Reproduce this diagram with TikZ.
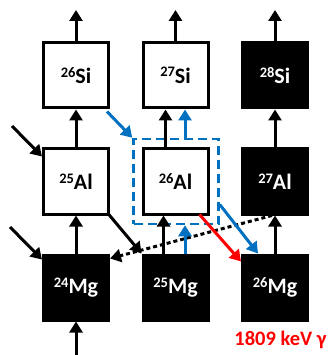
\documentclass[tikz,border=0pt]{standalone}
\usepackage{fontspec}
\setmainfont{Carlito}
\usepackage{tikz}
\usetikzlibrary{positioning,arrows.meta,calc}
\definecolor{pathblue}{RGB}{0,112,192}
\definecolor{gammared}{RGB}{255,0,0}
\newcommand{\iso}[2]{\raisebox{0.6ex}{\fontsize{14.5}{14}\selectfont #1}#2}

\begin{document}
\begin{tikzpicture}[x=1pt,y=-1pt,
  nuc/.style={rectangle, draw=black, line width=3pt, fill=white,
              minimum width=65pt, minimum height=65pt, inner sep=0pt,
              font=\fontsize{22}{24}\selectfont\bfseries},
  stab/.style={nuc, fill=black, text=white},
  ar/.style={-{Triangle[length=11pt,width=13pt]}, line width=3pt, black},
  bar/.style={ar, pathblue},
  rar/.style={ar, gammared},
  dotar/.style={ar, dash pattern=on 4pt off 3pt},
  cycle/.style={rectangle, draw=pathblue, line width=2.5pt,
                dash pattern=on 9pt off 5pt, minimum width=85pt, minimum height=85pt},
]
\useasboundingbox (0,0) rectangle (334,355);

% nuclides
\node[nuc]  (si26) at ( 76, 75.5) {\iso{26}{Si}};
\node[nuc]  (si27) at (175.5, 75.5) {\iso{27}{Si}};
\node[stab] (si28) at (275, 75.5) {\iso{28}{Si}};
\node[nuc]  (al25) at ( 76,181.5) {\iso{25}{Al}};
\node[nuc]  (al26) at (175.5,181.5) {\iso{26}{Al}};
\node[stab] (al27) at (275,181.5) {\iso{27}{Al}};
\node[stab] (mg24) at ( 76,287.5) {\iso{24}{Mg}};
\node[stab] (mg25) at (175.5,287.5) {\iso{25}{Mg}};
\node[stab] (mg26) at (275,287.5) {\iso{26}{Mg}};

\node[cycle] (loop) at (176,181.5) {};

% free ends
\coordinate (up1) at ( 76,10);
\coordinate (up2) at (175.5,10);
\coordinate (up3) at (275,10);
\coordinate (inal) at (12,126);
\coordinate (inmg) at (10,227);
\coordinate (low) at (76,355);

\draw[ar] (si26.north) -- (up1);
\draw[ar] (si27.north) -- (up2);
\draw[ar] (si28.north) -- (up3);

\draw[ar] (al25.north) -- (si26.south);
\draw[ar] ([xshift=-10pt]al26.north) -- ([xshift=-10pt]si27.south);
\draw[ar] (al27.north) -- (si28.south);

\draw[ar] (mg24.north) -- (al25.south);
\draw[ar] ([xshift=-12pt]mg25.north) -- ([xshift=-12pt]al26.south);
\draw[ar] (mg26.north) -- (al27.south);

\draw[ar] (inal) -- ([yshift=-9pt]al25.north west);
\draw[ar] (inmg) -- ([yshift=-6pt]mg24.north west);
\draw[ar] (low) -- (mg24.south);
\draw[ar] ([shift={(-2pt,2pt)}]al25.south east) -- (mg25.north west);

\draw[dotar] ([xshift=-3pt]al27.south) -- ([yshift=-5pt]mg24.north east);

% Al-26 cycle
\draw[bar] ([shift={(-3pt,-2pt)}]si26.south east) -- (loop.north west);
\draw[bar] ([xshift=9pt]loop.north) -- ([xshift=9.5pt]si27.south);
\draw[bar] ([xshift=9.5pt]mg25.north) -- ([xshift=9pt]loop.south);
\draw[bar] ([yshift=-23pt]loop.east) -- ([xshift=17pt]mg26.north west);
\draw[rar] ([shift={(-10pt,1pt)}]al26.south east) -- ([yshift=-8pt]mg26.north west);

\node[text=gammared, font=\fontsize{20.5}{24}\selectfont\bfseries] (gam) at (280.5,339.5)
    {1809 keV γ};
\end{tikzpicture}
\end{document}
